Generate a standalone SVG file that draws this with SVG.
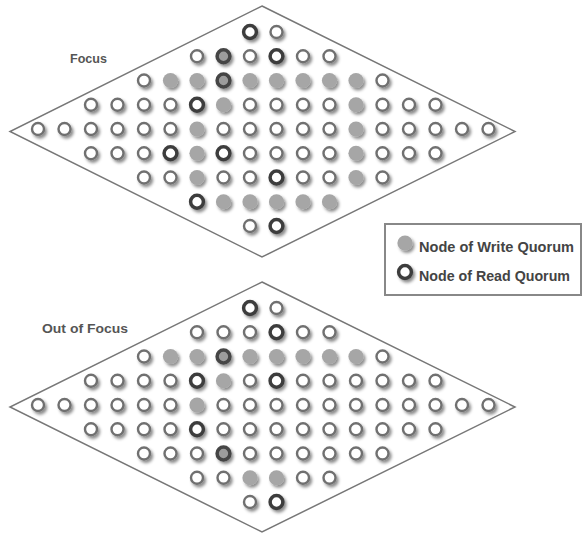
<svg xmlns="http://www.w3.org/2000/svg" xmlns:xlink="http://www.w3.org/1999/xlink" width="583" height="533" viewBox="0 0 583 533">
<style>
.frame{fill:#fff;stroke:#777;stroke-width:1.5}
.lbl{font-family:"Liberation Sans",Arial,sans-serif;font-weight:bold;font-size:13.5px;fill:#555}
.leg{font-family:"Liberation Sans",Arial,sans-serif;font-weight:bold;font-size:14px;fill:#444}
.box{fill:#fff;stroke:#888;stroke-width:2}
</style>
<defs>
<filter id="sh" x="-50%" y="-50%" width="200%" height="200%">
<feDropShadow dx="2" dy="2.5" stdDeviation="1.4" flood-color="#000" flood-opacity="0.45"/>
</filter>
<circle id="o" r="6" fill="#fff" stroke="#707070" stroke-width="2.4"/>
<circle id="r" r="6.4" fill="#fff" stroke="#3e3e3e" stroke-width="3.5"/>
<circle id="w" r="7.6" fill="#a6a6a6"/>
<circle id="b" r="6.4" fill="#9c9c9c" stroke="#444" stroke-width="3.5"/>
<g id="rowOpen14">
<use href="#o" x="91"/><use href="#o" x="117.5"/><use href="#o" x="144"/><use href="#o" x="170.5"/>
</g>
</defs>
<polygon class="frame" points="262,6 515,131.5 262,257 10,131.5"/>
<polygon class="frame" points="262,282 515,407 262,532 10,407"/>
<text class="lbl" x="70" y="63" textLength="37" lengthAdjust="spacingAndGlyphs">Focus</text>
<text class="lbl" x="42" y="333" textLength="86" lengthAdjust="spacingAndGlyphs">Out of Focus</text>

<g id="focus" filter="url(#sh)">
<g transform="translate(0,32)"><use href="#r" x="250"/><use href="#o" x="276.5"/></g>
<g transform="translate(0,56.25)"><use href="#o" x="197"/><use href="#b" x="223.5"/><use href="#o" x="250"/><use href="#r" x="276.5"/><use href="#o" x="303"/><use href="#o" x="329.5"/></g>
<g transform="translate(0,80.5)"><use href="#o" x="144"/><use href="#w" x="170.5"/><use href="#w" x="197"/><use href="#b" x="223.5"/><use href="#w" x="250"/><use href="#w" x="276.5"/><use href="#w" x="303"/><use href="#w" x="329.5"/><use href="#w" x="356"/><use href="#o" x="382.5"/></g>
<g transform="translate(0,104.75)"><use href="#o" x="91"/><use href="#o" x="117.5"/><use href="#o" x="144"/><use href="#o" x="170.5"/><use href="#r" x="197"/><use href="#w" x="223.5"/><use href="#o" x="250"/><use href="#o" x="276.5"/><use href="#o" x="303"/><use href="#o" x="329.5"/><use href="#w" x="356"/><use href="#o" x="382.5"/><use href="#o" x="409"/><use href="#o" x="435.5"/></g>
<g transform="translate(0,129)"><use href="#o" x="38"/><use href="#o" x="64.5"/><use href="#o" x="91"/><use href="#o" x="117.5"/><use href="#o" x="144"/><use href="#o" x="170.5"/><use href="#w" x="197"/><use href="#o" x="223.5"/><use href="#o" x="250"/><use href="#o" x="276.5"/><use href="#o" x="303"/><use href="#o" x="329.5"/><use href="#w" x="356"/><use href="#o" x="382.5"/><use href="#o" x="409"/><use href="#o" x="435.5"/><use href="#o" x="462"/><use href="#o" x="488.5"/></g>
<g transform="translate(0,153.25)"><use href="#o" x="91"/><use href="#o" x="117.5"/><use href="#o" x="144"/><use href="#r" x="170.5"/><use href="#w" x="197"/><use href="#r" x="223.5"/><use href="#o" x="250"/><use href="#o" x="276.5"/><use href="#o" x="303"/><use href="#o" x="329.5"/><use href="#w" x="356"/><use href="#o" x="382.5"/><use href="#o" x="409"/><use href="#o" x="435.5"/></g>
<g transform="translate(0,177.5)"><use href="#o" x="144"/><use href="#o" x="170.5"/><use href="#w" x="197"/><use href="#o" x="223.5"/><use href="#o" x="250"/><use href="#r" x="276.5"/><use href="#o" x="303"/><use href="#o" x="329.5"/><use href="#w" x="356"/><use href="#o" x="382.5"/></g>
<g transform="translate(0,201.75)"><use href="#r" x="197"/><use href="#w" x="223.5"/><use href="#w" x="250"/><use href="#w" x="276.5"/><use href="#w" x="303"/><use href="#w" x="329.5"/></g>
<g transform="translate(0,226)"><use href="#o" x="250"/><use href="#r" x="276.5"/></g>
</g>

<g id="out-of-focus" filter="url(#sh)" transform="translate(0,276)">
<g transform="translate(0,32)"><use href="#r" x="250"/><use href="#o" x="276.5"/></g>
<g transform="translate(0,56.25)"><use href="#o" x="197"/><use href="#o" x="223.5"/><use href="#o" x="250"/><use href="#r" x="276.5"/><use href="#o" x="303"/><use href="#o" x="329.5"/></g>
<g transform="translate(0,80.5)"><use href="#o" x="144"/><use href="#w" x="170.5"/><use href="#w" x="197"/><use href="#b" x="223.5"/><use href="#w" x="250"/><use href="#w" x="276.5"/><use href="#w" x="303"/><use href="#w" x="329.5"/><use href="#w" x="356"/><use href="#o" x="382.5"/></g>
<g transform="translate(0,104.75)"><use href="#o" x="91"/><use href="#o" x="117.5"/><use href="#o" x="144"/><use href="#o" x="170.5"/><use href="#r" x="197"/><use href="#w" x="223.5"/><use href="#o" x="250"/><use href="#r" x="276.5"/><use href="#o" x="303"/><use href="#o" x="329.5"/><use href="#o" x="356"/><use href="#o" x="382.5"/><use href="#o" x="409"/><use href="#o" x="435.5"/></g>
<g transform="translate(0,129)"><use href="#o" x="38"/><use href="#o" x="64.5"/><use href="#o" x="91"/><use href="#o" x="117.5"/><use href="#o" x="144"/><use href="#o" x="170.5"/><use href="#w" x="197"/><use href="#o" x="223.5"/><use href="#o" x="250"/><use href="#o" x="276.5"/><use href="#o" x="303"/><use href="#o" x="329.5"/><use href="#o" x="356"/><use href="#o" x="382.5"/><use href="#o" x="409"/><use href="#o" x="435.5"/><use href="#o" x="462"/><use href="#o" x="488.5"/></g>
<g transform="translate(0,153.25)"><use href="#o" x="91"/><use href="#o" x="117.5"/><use href="#o" x="144"/><use href="#o" x="170.5"/><use href="#r" x="197"/><use href="#o" x="223.5"/><use href="#o" x="250"/><use href="#o" x="276.5"/><use href="#o" x="303"/><use href="#o" x="329.5"/><use href="#o" x="356"/><use href="#o" x="382.5"/><use href="#o" x="409"/><use href="#o" x="435.5"/></g>
<g transform="translate(0,177.5)"><use href="#o" x="144"/><use href="#o" x="170.5"/><use href="#o" x="197"/><use href="#b" x="223.5"/><use href="#o" x="250"/><use href="#o" x="276.5"/><use href="#o" x="303"/><use href="#o" x="329.5"/><use href="#o" x="356"/><use href="#o" x="382.5"/></g>
<g transform="translate(0,201.75)"><use href="#o" x="197"/><use href="#o" x="223.5"/><use href="#w" x="250"/><use href="#w" x="276.5"/><use href="#o" x="303"/><use href="#o" x="329.5"/></g>
<g transform="translate(0,226)"><use href="#o" x="250"/><use href="#r" x="276.5"/></g>
</g>

<g id="legend">
<rect class="box" x="385" y="224" width="196" height="71"/>
<g filter="url(#sh)"><use href="#w" x="405" y="243"/><use href="#r" x="405" y="272"/></g>
<text class="leg" x="419" y="252" textLength="155" lengthAdjust="spacingAndGlyphs">Node of Write Quorum</text>
<text class="leg" x="419" y="281" textLength="151" lengthAdjust="spacingAndGlyphs">Node of Read Quorum</text>
</g>
</svg>
